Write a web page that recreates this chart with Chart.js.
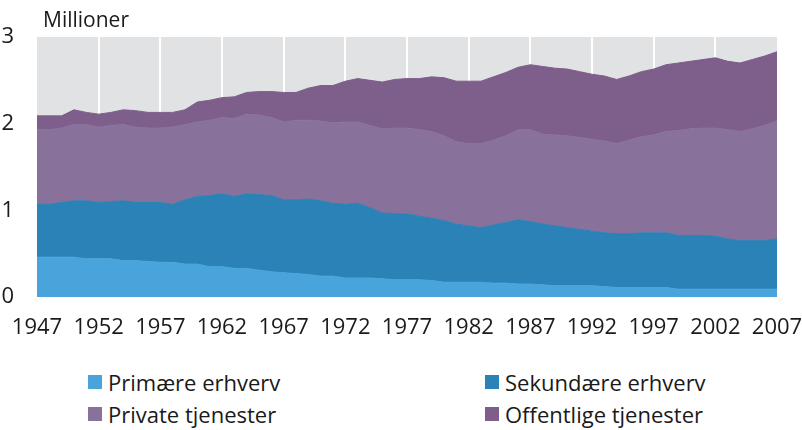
<!DOCTYPE html>
<html lang="da">
<head>
    <meta charset="UTF-8">
    <title>Beskæftigede fordelt på erhverv</title>
    <script src="https://cdn.jsdelivr.net/npm/chart.js"></script>
    <style>
        body { margin: 0; background: #fff; }
        .wrap { position: relative; width: 802px; height: 430px; font-family: "Open Sans", sans-serif; }
        #legend { position: absolute; left: 88px; top: 366px; display: grid; grid-template-columns: 397px 300px; }
        .item { display: flex; align-items: center; height: 32px; font-size: 22px; color: #1a1a1a; white-space: nowrap; }
        .box { width: 14px; height: 14px; margin-right: 6px; }
    </style>
</head>
<body>
<div class="wrap">
    <canvas id="chart" width="802" height="345"></canvas>
    <div id="legend"></div>
</div>
<script>
    // Årstal (x-akse)
    const years = [1947, 1948, 1949, 1950, 1951, 1952, 1953, 1954, 1955, 1956,
        1957, 1958, 1959, 1960, 1961, 1962, 1963, 1964, 1965, 1966,
        1967, 1968, 1969, 1970, 1971, 1972, 1973, 1974, 1975, 1976,
        1977, 1978, 1979, 1980, 1981, 1982, 1983, 1984, 1985, 1986,
        1987, 1988, 1989, 1990, 1991, 1992, 1993, 1994, 1995, 1996,
        1997, 1998, 1999, 2000, 2001, 2002, 2003, 2004, 2005, 2006, 2007];

    // Millioner beskæftigede
    const primaere = [0.46, 0.46, 0.46, 0.46, 0.44, 0.44, 0.44, 0.42, 0.42, 0.41,
        0.40, 0.40, 0.38, 0.38, 0.35, 0.35, 0.33, 0.33, 0.31, 0.29,
        0.28, 0.27, 0.26, 0.24, 0.24, 0.22, 0.22, 0.22, 0.21, 0.20,
        0.20, 0.20, 0.19, 0.17, 0.17, 0.17, 0.17, 0.16, 0.16, 0.15,
        0.15, 0.14, 0.13, 0.13, 0.13, 0.13, 0.12, 0.11, 0.11, 0.11,
        0.11, 0.11, 0.09, 0.09, 0.09, 0.09, 0.09, 0.09, 0.09, 0.09, 0.09];
    const sekundaere = [0.61, 0.61, 0.63, 0.65, 0.67, 0.65, 0.66, 0.69, 0.67, 0.68,
        0.69, 0.67, 0.74, 0.78, 0.82, 0.84, 0.83, 0.86, 0.87, 0.88,
        0.84, 0.85, 0.87, 0.87, 0.84, 0.85, 0.86, 0.81, 0.76, 0.76,
        0.76, 0.73, 0.72, 0.71, 0.67, 0.65, 0.63, 0.67, 0.70, 0.74,
        0.72, 0.70, 0.69, 0.67, 0.65, 0.63, 0.62, 0.62, 0.62, 0.63,
        0.63, 0.63, 0.62, 0.62, 0.62, 0.61, 0.58, 0.56, 0.56, 0.56, 0.58];
    const private_ = [0.86, 0.86, 0.86, 0.88, 0.88, 0.87, 0.88, 0.88, 0.87, 0.86,
        0.86, 0.89, 0.87, 0.86, 0.87, 0.88, 0.90, 0.92, 0.92, 0.90,
        0.90, 0.92, 0.91, 0.92, 0.93, 0.95, 0.94, 0.95, 0.97, 0.99,
        0.99, 1.00, 1.00, 0.98, 0.95, 0.95, 0.97, 0.98, 1.00, 1.04,
        1.06, 1.04, 1.05, 1.06, 1.06, 1.06, 1.06, 1.04, 1.08, 1.11,
        1.13, 1.17, 1.21, 1.23, 1.24, 1.25, 1.26, 1.26, 1.29, 1.33, 1.36];
    const offentlige = [0.16, 0.16, 0.14, 0.17, 0.14, 0.15, 0.15, 0.17, 0.19, 0.18,
        0.18, 0.17, 0.17, 0.23, 0.23, 0.23, 0.25, 0.25, 0.27, 0.30,
        0.34, 0.32, 0.37, 0.41, 0.43, 0.47, 0.50, 0.52, 0.54, 0.56,
        0.57, 0.59, 0.63, 0.67, 0.70, 0.72, 0.72, 0.73, 0.73, 0.72,
        0.75, 0.78, 0.77, 0.77, 0.76, 0.75, 0.75, 0.74, 0.74, 0.75,
        0.76, 0.77, 0.78, 0.78, 0.79, 0.81, 0.79, 0.79, 0.80, 0.80, 0.80];

    const series = [
        { label: 'Primære erhverv', data: primaere, color: '#48a4db' },
        { label: 'Sekundære erhverv', data: sekundaere, color: '#2a82b7' },
        { label: 'Private tjenester', data: private_, color: '#88719b' },
        { label: 'Offentlige tjenester', data: offentlige, color: '#7e5e8a' }
    ];

    const FONT = '"Open Sans", sans-serif';

    // grå baggrund bag plotområdet + "Millioner"
    const bgPlugin = {
        id: 'bg',
        beforeDraw(chart) {
            const { ctx, chartArea: a } = chart;
            ctx.save();
            ctx.fillStyle = '#e1e2e4';
            ctx.fillRect(a.left, a.top, a.right - a.left, a.bottom - a.top);
            ctx.restore();
        },
        afterDraw(chart) {
            const { ctx, chartArea: a } = chart;
            ctx.save();
            ctx.font = '21px ' + FONT;
            ctx.fillStyle = '#1a1a1a';
            ctx.textBaseline = 'middle';
            ctx.fillText('Millioner', a.left + 6, 21);
            ctx.restore();
        }
    };

    new Chart(document.getElementById('chart'), {
        type: 'line',
        data: {
            labels: years,
            datasets: series.map((s, i) => ({
                label: s.label,
                data: s.data,
                backgroundColor: s.color,
                borderColor: s.color,
                borderWidth: 1,
                pointRadius: 0,
                tension: 0,
                fill: i === 0 ? 'origin' : '-1'
            }))
        },
        options: {
            responsive: false,
            animation: false,
            layout: { padding: { top: 37, right: 25, left: 0, bottom: 0 } },
            plugins: {
                legend: { display: false },
                tooltip: { enabled: false }
            },
            scales: {
                x: {
                    offset: false,
                    border: { display: false },
                    afterFit: (s) => { s.paddingLeft = 0; s.paddingRight = 0; s.height = 48; },
                    grid: {
                        drawTicks: false,
                        lineWidth: 2,
                        color: (c) => (c.index % 5 === 0 && c.index > 0 && c.index < years.length - 1) ? '#ffffff' : 'rgba(0,0,0,0)'
                    },
                    ticks: {
                        autoSkip: false,
                        maxRotation: 0,
                        padding: 18,
                        color: '#1a1a1a',
                        font: { family: FONT, size: 22 },
                        callback: (v, i) => i % 5 === 0 ? years[i] : ''
                    }
                },
                y: {
                    stacked: true,
                    min: 0,
                    max: 3,
                    border: { display: false },
                    grid: { display: false },
                    afterFit: (s) => { s.width = 37; },
                    ticks: {
                        stepSize: 1,
                        padding: 15,
                        color: '#1a1a1a',
                        font: { family: FONT, size: 22 }
                    }
                }
            }
        },
        plugins: [bgPlugin]
    });

    // legende i to kolonner
    const legend = document.getElementById('legend');
    series.forEach(s => {
        const item = document.createElement('div');
        item.className = 'item';
        item.innerHTML = '<span class="box" style="background:' + s.color + '"></span>' + s.label;
        legend.appendChild(item);
    });
</script>
</body>
</html>
